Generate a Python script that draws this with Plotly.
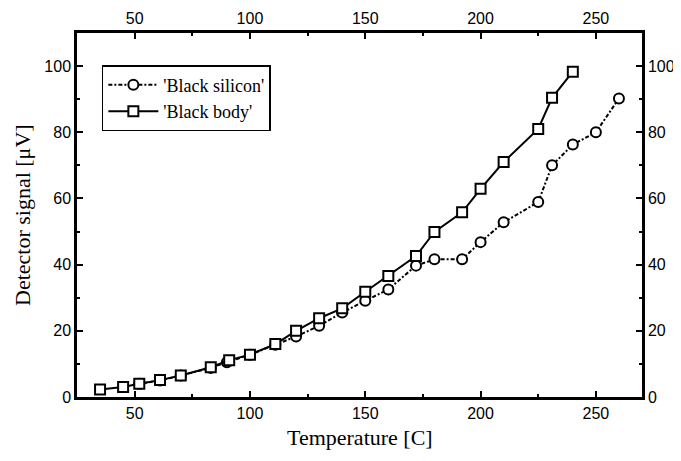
import plotly.graph_objects as go

# Données
temp_silicon = [52, 61, 70, 83, 90, 100, 111, 120, 130, 140, 150, 160, 172, 180,
                192, 200, 210, 225, 231, 240, 250, 260]
signal_silicon = [4, 5, 6.5, 8.8, 10.5, 12.8, 15.8, 18.3, 21.5, 25.5, 29.1, 32.5,
                  39.7, 41.6, 41.6, 46.8, 52.8, 58.9, 70, 76.3, 80, 90.2]

temp_body = [35, 45, 52, 61, 70, 83, 91, 100, 111, 120, 130, 140, 150, 160, 172,
             180, 192, 200, 210, 225, 231, 240]
signal_body = [2.3, 3, 4, 5.1, 6.5, 9, 11.1, 12.8, 16, 20, 23.8, 26.8, 31.8, 36.6,
               42.6, 49.9, 55.8, 62.9, 71, 81, 90.4, 98.3]

x_range = [25, 270]
y_range = [0, 110]

fig = go.Figure()

# Marqueurs blancs cerclés de noir : la ligne ne passe pas à travers
fig.add_trace(go.Scatter(
    x=temp_silicon, y=signal_silicon,
    mode="lines+markers",
    name="'Black silicon'",
    line=dict(color="black", width=2, dash="4px,2px,2px,2px"),
    marker=dict(symbol="circle", size=10, color="white",
                line=dict(width=2, color="black")),
))

fig.add_trace(go.Scatter(
    x=temp_body, y=signal_body,
    mode="lines+markers",
    name="'Black body'",
    line=dict(color="black", width=2),
    marker=dict(symbol="square", size=10, color="white",
                line=dict(width=2, color="black")),
))

# Trace invisible pour afficher les axes du haut et de droite
fig.add_trace(go.Scatter(
    x=x_range, y=y_range, xaxis="x2", yaxis="y2",
    mode="markers", marker=dict(opacity=0), showlegend=False, hoverinfo="skip",
))

tick_font = dict(family="Liberation Sans, Arial", size=16, color="black")
title_font = dict(family="Liberation Serif, Times New Roman", size=22, color="black")
axis_common = dict(
    showline=True, linecolor="black", linewidth=2.5,
    ticks="inside", ticklen=6, tickwidth=2, tickcolor="black",
    showgrid=False, zeroline=False, tickfont=tick_font, automargin=False,
)

# La page HTML ajoute une marge de 8 px autour de la figure
fig.update_layout(
    width=673, height=453,
    margin=dict(l=69, r=39, t=25, b=64),
    plot_bgcolor="white", paper_bgcolor="white",
    xaxis=dict(
        range=x_range, dtick=50, tick0=0,
        minor=dict(dtick=25, ticks="inside", ticklen=3, tickwidth=2, tickcolor="black"),
        **axis_common,
    ),
    yaxis=dict(
        range=y_range, dtick=20, tick0=0,
        minor=dict(dtick=10, ticks="inside", ticklen=3, tickwidth=2, tickcolor="black"),
        **axis_common,
    ),
    xaxis2=dict(
        range=x_range, dtick=50, tick0=0, overlaying="x", side="top",
        minor=dict(dtick=25, ticks="inside", ticklen=3, tickwidth=2, tickcolor="black"),
        **axis_common,
    ),
    yaxis2=dict(
        range=y_range, dtick=20, tick0=0, overlaying="y", side="right",
        minor=dict(dtick=10, ticks="inside", ticklen=3, tickwidth=2, tickcolor="black"),
        **axis_common,
    ),
    legend=dict(
        x=0.044, y=0.912, xanchor="left", yanchor="top",
        bgcolor="white", bordercolor="black", borderwidth=1.5,
        font=dict(family="Liberation Serif, Times New Roman", size=18, color="black"),
        tracegroupgap=0, itemwidth=50,
    ),
    annotations=[
        dict(text="Temperature [C]", xref="paper", yref="paper", x=0.5, y=0,
             yshift=-40, xanchor="center", yanchor="middle",
             showarrow=False, font=title_font),
        dict(text="Detector signal [μV]", xref="paper", yref="paper", x=0, y=0.5,
             xshift=-55, xanchor="center", yanchor="middle", textangle=-90,
             showarrow=False, font=title_font),
    ],
    showlegend=True,
)

fig.write_html("out.html")
